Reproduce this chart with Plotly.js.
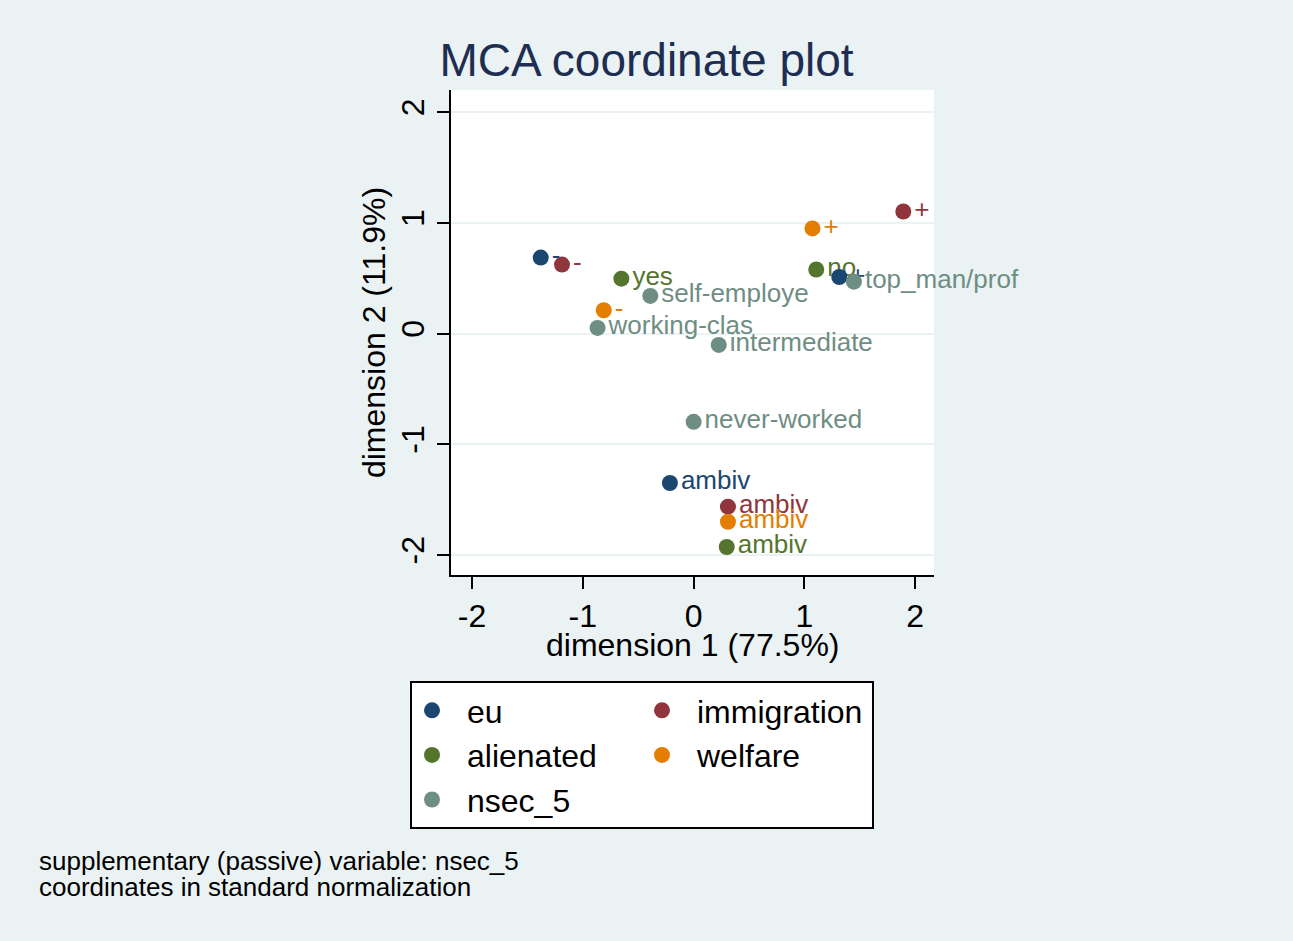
<!DOCTYPE html>
<html>
<head>
<meta charset="utf-8">
<script src="https://cdn.plot.ly/plotly-3.0.1.min.js"></script>
<style>
  html, body { margin: 0; padding: 0; background: #eaf2f3; }
</style>
</head>
<body>
<div id="mca"></div>
<script>
  // coordinates (standard normalization)
  var euLabels = ['-', 'ambiv', '+'];
  var euX = [-1.38, -0.214, 1.315];
  var euY = [0.687, -1.349, 0.511];

  var immLabels = ['-', 'ambiv', '+'];
  var immX = [-1.188, 0.31, 1.893];
  var immY = [0.623, -1.563, 1.103];

  var alienLabels = ['yes', 'ambiv', 'no'];
  var alienX = [-0.652, 0.299, 1.107];
  var alienY = [0.496, -1.927, 0.579];

  var welfLabels = ['-', 'ambiv', '+'];
  var welfX = [-0.811, 0.31, 1.073];
  var welfY = [0.211, -1.699, 0.95];

  var nsecLabels = ['top_man/prof', 'intermediate', 'self-employe', 'working-clas', 'never-worked'];
  var nsecX = [1.447, 0.227, -0.391, -0.867, 0.0];
  var nsecY = [0.469, -0.102, 0.34, 0.051, -0.797];

  var tickVals = [-2, -1, 0, 1, 2];
  var tickText = ['-2', '-1', '0', '1', '2'];

  var font = 'Liberation Sans, Arial, sans-serif';

  // draw order follows the overlaps in the picture, legend order uses legendrank
  var series = [
    {name: 'alienated', x: alienX, y: alienY, t: alienLabels, color: '#55752f', rank: 3},
    {name: 'eu', x: euX, y: euY, t: euLabels, color: '#1a476f', rank: 1},
    {name: 'immigration', x: immX, y: immY, t: immLabels, color: '#90353b', rank: 2},
    {name: 'welfare', x: welfX, y: welfY, t: welfLabels, color: '#e37e00', rank: 4},
    {name: 'nsec_5', x: nsecX, y: nsecY, t: nsecLabels, color: '#6e8e84', rank: 5}
  ];

  var data = [];
  for (var i = 0; i < series.length; i++) {
    var s = series[i];
    data.push({
      x: s.x,
      y: s.y,
      text: s.t,
      name: s.name,
      legendrank: s.rank,
      type: 'scatter',
      mode: 'markers+text',
      textposition: 'middle right',
      cliponaxis: false,
      textfont: {family: font, size: 26, color: s.color},
      marker: {color: s.color, size: 16},
      hoverinfo: 'skip'
    });
  }

  var layout = {
    width: 1293,
    height: 941,
    paper_bgcolor: '#eaf2f3',
    plot_bgcolor: '#ffffff',
    margin: {l: 451, r: 359, t: 90, b: 366, autoexpand: false},
    font: {family: font, color: '#000000'},
    title: {
      text: 'MCA coordinate plot',
      font: {family: font, size: 46, color: '#1e2d52'},
      xref: 'container',
      yref: 'container',
      x: 0.5,
      xanchor: 'center',
      y: 1 - 60 / 941,
      yanchor: 'middle'
    },
    xaxis: {
      range: [-2.19, 2.17],
      tickvals: tickVals,
      ticktext: tickText,
      showgrid: false,
      zeroline: false,
      showline: true,
      linecolor: '#000000',
      linewidth: 2,
      ticks: 'outside',
      ticklen: 12,
      tickwidth: 2,
      tickcolor: '#000000',
      tickfont: {family: font, size: 32, color: '#000000'}
    },
    yaxis: {
      range: [-2.18, 2.2],
      tickvals: tickVals,
      ticktext: tickText,
      tickangle: -90,
      showgrid: true,
      gridcolor: '#eaf2f3',
      gridwidth: 2,
      zeroline: false,
      showline: true,
      linecolor: '#000000',
      linewidth: 2,
      ticks: 'outside',
      ticklen: 12,
      tickwidth: 2,
      tickcolor: '#000000',
      tickfont: {family: font, size: 32, color: '#000000'},
      title: {text: 'dimension 2 (11.9%)', font: {family: font, size: 32, color: '#000000'}, standoff: 0}
    },
    showlegend: true,
    legend: {
      orientation: 'h',
      xref: 'container',
      yref: 'container',
      x: 410 / 1293,
      xanchor: 'left',
      y: 1 - 681 / 941,
      yanchor: 'top',
      bgcolor: '#ffffff',
      bordercolor: '#000000',
      borderwidth: 2,
      itemwidth: 60,
      indentation: -15,
      entrywidth: 170,
      font: {family: font, size: 32, color: '#000000'}
    },
    annotations: [
      {
        xref: 'paper', yref: 'paper',
        x: 0.5, y: (575 - 645) / 485,
        xanchor: 'center', yanchor: 'middle',
        text: 'dimension 1 (77.5%)',
        showarrow: false,
        font: {family: font, size: 32, color: '#000000'}
      },
      {
        xref: 'paper', yref: 'paper',
        x: (37 - 451) / 483, y: (575 - 861) / 485,
        xanchor: 'left', yanchor: 'middle',
        text: 'supplementary (passive) variable: nsec_5',
        showarrow: false,
        font: {family: font, size: 26, color: '#000000'}
      },
      {
        xref: 'paper', yref: 'paper',
        x: (37 - 451) / 483, y: (575 - 887) / 485,
        xanchor: 'left', yanchor: 'middle',
        text: 'coordinates in standard normalization',
        showarrow: false,
        font: {family: font, size: 26, color: '#000000'}
      }
    ]
  };

  Plotly.newPlot('mca', data, layout, {displayModeBar: false, staticPlot: true});
</script>
</body>
</html>
